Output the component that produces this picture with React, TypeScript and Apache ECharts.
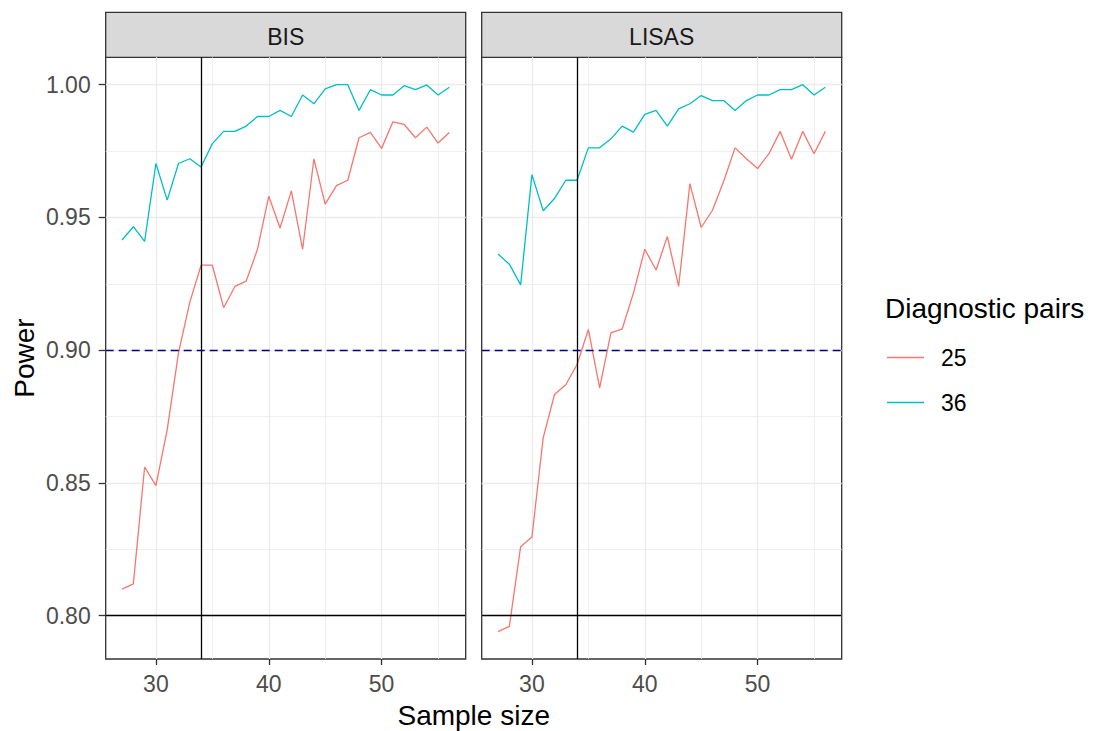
import React, { useEffect, useRef } from "react";
import * as echarts from "echarts";

// ---- data ----
const panels = ["BIS", "LISAS"];
const pairGroups = ["25", "36"];
const sampleSizes = [27, 28, 29, 30, 31, 32, 33, 34, 35, 36, 37, 38, 39, 40, 41, 42, 43, 44, 45, 46, 47, 48, 49, 50, 51, 52, 53, 54, 55, 56];

const bis25 = [0.810, 0.812, 0.856, 0.849, 0.870, 0.899, 0.918, 0.932, 0.932, 0.916, 0.924, 0.926, 0.938, 0.958, 0.946, 0.960, 0.938, 0.972, 0.955, 0.962, 0.964, 0.980, 0.982, 0.976, 0.986, 0.985, 0.980, 0.984, 0.978, 0.982];
const bis36 = [0.9415, 0.9465, 0.941, 0.9703, 0.9565, 0.9703, 0.9721, 0.969, 0.9778, 0.9824, 0.9824, 0.9844, 0.988, 0.988, 0.9903, 0.988, 0.9961, 0.9928, 0.9984, 1.0, 1.0, 0.9903, 0.9981, 0.9961, 0.9961, 0.9996, 0.9981, 0.9999, 0.9961, 0.999];
const lisas25 = [0.794, 0.796, 0.826, 0.8296, 0.867, 0.8833, 0.887, 0.8946, 0.9078, 0.8858, 0.9065, 0.908, 0.9216, 0.938, 0.9302, 0.9428, 0.924, 0.9627, 0.9462, 0.9527, 0.9637, 0.9762, 0.9721, 0.9684, 0.974, 0.9824, 0.9719, 0.9824, 0.974, 0.9824];
const lisas36 = [0.9362, 0.9324, 0.9246, 0.9661, 0.9525, 0.9571, 0.964, 0.964, 0.9762, 0.9762, 0.9796, 0.9844, 0.9821, 0.9888, 0.9903, 0.9844, 0.9909, 0.9928, 0.9959, 0.994, 0.994, 0.9903, 0.994, 0.9961, 0.9961, 0.9981, 0.9981, 1.0, 0.9961, 0.999];

const xTicks = [30, 40, 50];
const xMinorTicks = [35, 45, 55];
const yTicks = [0.8, 0.85, 0.9, 0.95, 1.0];
const yMinorTicks = [0.825, 0.875, 0.925, 0.975];

const xMin = 25.55;
const xMax = 57.45;
const yMin = 0.7837;
const yMax = 1.0103;

const cutoffSample = 34;
const minPower = 0.8;
const targetPower = 0.9;

// ---- styling ----
const FONT = "'Liberation Sans', Arial, sans-serif";
const colors: Record<string, string> = { "25": "#F8766D", "36": "#00BFC4" };
const gridLefts = [105.7, 481.7];
const gridTop = 57.3;
const gridWidth = 360;
const gridHeight = 601.7;

const seriesValues: number[][][] = [
  [bis25, bis36],
  [lisas25, lisas36],
];

export default function App() {
  const ref = useRef<HTMLDivElement>(null);

  useEffect(() => {
    if (!ref.current) return;
    const chart = echarts.init(ref.current, undefined, { renderer: "svg" });

    const grids = gridLefts.map((left) => ({
      left,
      top: gridTop,
      width: gridWidth,
      height: gridHeight,
      show: true,
      backgroundColor: "#FFFFFF",
      borderColor: "#333333",
      borderWidth: 1.3,
      containLabel: false,
      outerBoundsMode: "none",
    }));

    const mainX = panels.map((_, i) => ({
      type: "value",
      gridIndex: i,
      min: xMin,
      max: xMax,
      axisLine: { show: false },
      axisTick: { show: true, length: 6, customValues: xTicks, lineStyle: { color: "#333333", width: 1.3 } },
      axisLabel: { show: true, customValues: xTicks, color: "#4D4D4D", fontSize: 23, fontFamily: FONT, margin: 13 },
      splitLine: { show: true, lineStyle: { color: "#EBEBEB", width: 1.3 } },
    }));
    const minorX = panels.map((_, i) => ({
      type: "value",
      gridIndex: i,
      min: xMin,
      max: xMax,
      axisLine: { show: false },
      axisTick: { show: false, customValues: xMinorTicks },
      axisLabel: { show: false },
      splitLine: { show: true, lineStyle: { color: "#EBEBEB", width: 0.8 } },
    }));
    const mainY = panels.map((_, i) => ({
      type: "value",
      gridIndex: i,
      min: yMin,
      max: yMax,
      axisLine: { show: false },
      axisTick: { show: i === 0, length: 7, customValues: yTicks, lineStyle: { color: "#333333", width: 1.3 } },
      axisLabel: {
        show: i === 0,
        customValues: yTicks,
        color: "#4D4D4D",
        fontSize: 23,
        fontFamily: FONT,
        margin: 15,
        formatter: (v: number) => v.toFixed(2),
      },
      splitLine: { show: true, lineStyle: { color: "#EBEBEB", width: 1.3 } },
    }));
    const minorY = panels.map((_, i) => ({
      type: "value",
      gridIndex: i,
      min: yMin,
      max: yMax,
      axisLine: { show: false },
      axisTick: { show: false, customValues: yMinorTicks },
      axisLabel: { show: false },
      splitLine: { show: true, lineStyle: { color: "#EBEBEB", width: 0.8 } },
    }));

    const series: any[] = [];
    panels.forEach((_, pi) => {
      pairGroups.forEach((g, gi) => {
        const vals = seriesValues[pi][gi];
        series.push({
          type: "line",
          name: g,
          xAxisIndex: pi,
          yAxisIndex: pi,
          data: sampleSizes.map((s, k) => [s, vals[k]]),
          symbol: "none",
          showSymbol: false,
          lineStyle: { color: colors[g], width: 1.3 },
          itemStyle: { color: colors[g] },
          z: 2,
          silent: true,
          markLine:
            gi === 1
              ? {
                  silent: true,
                  symbol: ["none", "none"],
                  label: { show: false },
                  animation: false,
                  data: [
                    { xAxis: cutoffSample, lineStyle: { color: "#000000", width: 1.3, type: "solid" } },
                    { yAxis: minPower, lineStyle: { color: "#000000", width: 1.3, type: "solid" } },
                    { yAxis: targetPower, lineStyle: { color: "#000080", width: 1.3, type: [8, 5] } },
                  ],
                }
              : undefined,
        });
      });
    });

    const graphic: any[] = [];
    panels.forEach((p, i) => {
      graphic.push({
        type: "rect",
        shape: { x: gridLefts[i], y: 12.3, width: gridWidth, height: 45 },
        style: { fill: "#D9D9D9", stroke: "#333333", lineWidth: 1.3 },
        silent: true,
      });
      graphic.push({
        type: "text",
        x: gridLefts[i] + gridWidth / 2,
        y: 37,
        style: { text: p, fill: "#1A1A1A", font: `23px ${FONT}`, align: "center", verticalAlign: "middle" },
        silent: true,
      });
    });
    graphic.push({
      type: "text",
      x: 473.7,
      y: 715,
      style: { text: "Sample size", fill: "#000000", font: `28px ${FONT}`, align: "center", verticalAlign: "middle" },
      silent: true,
    });
    graphic.push({
      type: "text",
      x: 24,
      y: 358,
      rotation: Math.PI / 2,
      style: { text: "Power", fill: "#000000", font: `28px ${FONT}`, align: "center", verticalAlign: "middle" },
      silent: true,
    });
    graphic.push({
      type: "text",
      x: 885,
      y: 308.5,
      style: { text: "Diagnostic pairs", fill: "#000000", font: `28px ${FONT}`, align: "left", verticalAlign: "middle" },
      silent: true,
    });

    chart.setOption({
      animation: false,
      backgroundColor: "#FFFFFF",
      textStyle: { fontFamily: FONT },
      grid: grids,
      xAxis: [...mainX, ...minorX],
      yAxis: [...mainY, ...minorY],
      legend: {
        show: true,
        orient: "vertical",
        left: 887,
        top: 346,
        padding: 0,
        itemWidth: 37,
        itemHeight: 1.4,
        itemGap: 22,
        data: pairGroups.map((g) => ({ name: g, icon: "rect", itemStyle: { color: colors[g], borderWidth: 0 } })),
        selectedMode: false,
        textStyle: { fontSize: 23, color: "#000000", fontFamily: FONT, padding: [0, 0, 0, 12] },
      },
      series: [
        ...series,
        ...panels.map((_, i) => ({
          type: "line",
          name: "minor-grid-" + i,
          xAxisIndex: 2 + i,
          yAxisIndex: 2 + i,
          data: [],
          silent: true,
        })),
      ],
      graphic,
    });

    return () => chart.dispose();
  }, []);

  return (
    <div
      ref={ref}
      style={{ position: "absolute", left: 0, top: 0, width: 1093, height: 731, background: "#FFFFFF" }}
    />
  );
}
